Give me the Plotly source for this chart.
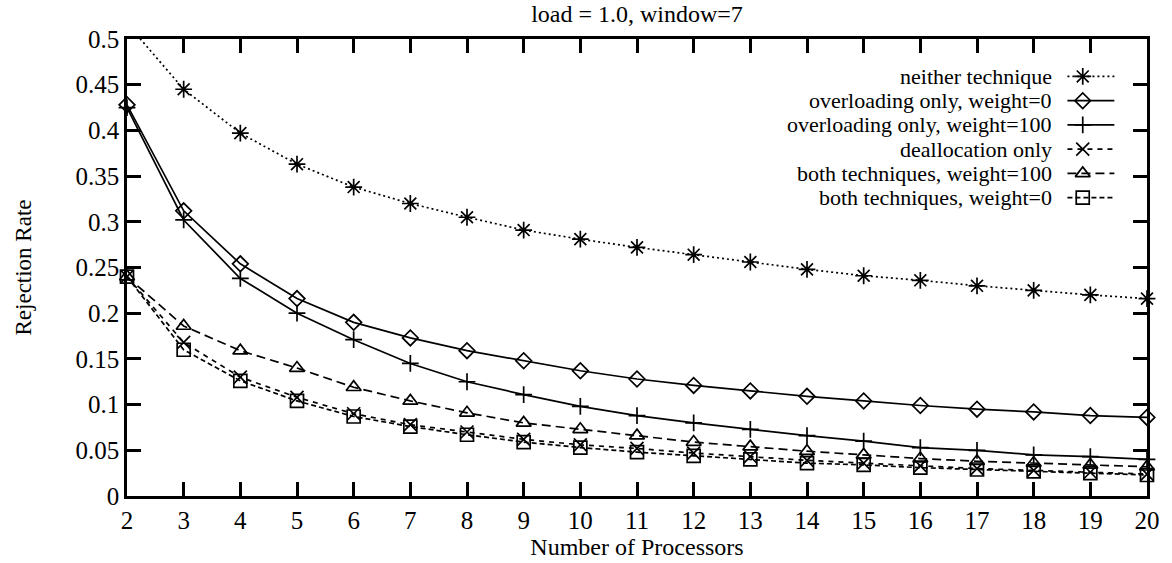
import plotly.graph_objects as go

# Number of processors
processors = list(range(2, 21))

# Rejection rate per strategy
neither = [0.517, 0.445, 0.397, 0.363, 0.338, 0.320, 0.305, 0.291, 0.281, 0.272,
           0.264, 0.256, 0.248, 0.241, 0.236, 0.230, 0.225, 0.220, 0.216]
overload_w0 = [0.428, 0.312, 0.254, 0.216, 0.190, 0.173, 0.159, 0.148, 0.137, 0.128,
               0.121, 0.115, 0.109, 0.104, 0.099, 0.095, 0.092, 0.088, 0.086]
overload_w100 = [0.425, 0.302, 0.238, 0.200, 0.171, 0.145, 0.125, 0.111, 0.098, 0.088,
                 0.080, 0.073, 0.066, 0.060, 0.053, 0.050, 0.045, 0.043, 0.040]
dealloc = [0.240, 0.168, 0.130, 0.108, 0.090, 0.078, 0.070, 0.062, 0.056, 0.052,
           0.047, 0.043, 0.039, 0.036, 0.033, 0.030, 0.028, 0.026, 0.024]
both_w100 = [0.240, 0.186, 0.159, 0.140, 0.119, 0.104, 0.091, 0.080, 0.073, 0.066,
             0.059, 0.054, 0.049, 0.045, 0.041, 0.038, 0.036, 0.034, 0.032]
both_w0 = [0.240, 0.160, 0.126, 0.104, 0.087, 0.076, 0.067, 0.059, 0.053, 0.048,
           0.044, 0.040, 0.036, 0.034, 0.031, 0.029, 0.027, 0.025, 0.023]

series = [
    ("neither technique", neither, "asterisk-open", "2px,3px", 14),
    ("overloading only, weight=0", overload_w0, "diamond-open", "solid", 12),
    ("overloading only, weight=100", overload_w100, "cross-thin-open", "solid", 12),
    ("deallocation only", dealloc, "x-thin-open", "5px,5px", 13),
    ("both techniques, weight=100", both_w100, "triangle-up-open", "9px,5px", 13),
    ("both techniques, weight=0", both_w0, "square-open", "5px,3px", 13),
]

Y_MAX = 0.5
FONT = "Liberation Serif"

fig = go.Figure()

for name, vals, sym, dash, msize in series:
    # line clipped to the plotting area
    fig.add_trace(go.Scatter(
        x=processors, y=vals, mode="lines", showlegend=False,
        line=dict(color="black", width=1.7, dash=dash),
        cliponaxis=True, hoverinfo="skip",
    ))
    # point markers inside the y range, drawn unclipped at the frame edges
    px = [p for p, v in zip(processors, vals) if v <= Y_MAX]
    py = [v for v in vals if v <= Y_MAX]
    fig.add_trace(go.Scatter(
        x=px, y=py, mode="markers", name=name, showlegend=False,
        marker=dict(symbol=sym, size=msize, color="black",
                    line=dict(color="black", width=1.7)),
        cliponaxis=False,
    ))

# key drawn in the top-right corner, sample on the right of each label
key_top = 0.918
key_step = 0.053
sample_x0, sample_x1, sample_mark = 0.922, 0.968, 0.937
for i, (name, vals, sym, dash, msize) in enumerate(series):
    ky = key_top - i * key_step
    fig.add_trace(go.Scatter(
        x=[sample_x0, sample_x1], y=[ky, ky], mode="lines",
        xaxis="x2", yaxis="y2", showlegend=False, hoverinfo="skip",
        line=dict(color="black", width=1.7, dash=dash),
    ))
    fig.add_trace(go.Scatter(
        x=[sample_mark], y=[ky], mode="markers",
        xaxis="x2", yaxis="y2", showlegend=False, hoverinfo="skip",
        marker=dict(symbol=sym, size=msize, color="black",
                    line=dict(color="black", width=1.7)),
    ))
    fig.add_annotation(
        x=0.909, y=ky, xref="x2", yref="y2",
        text=name, showarrow=False, xanchor="right", yanchor="middle",
        font=dict(family=FONT, size=22, color="black"),
    )

axis_common = dict(
    showgrid=False, zeroline=False, showline=True, linecolor="black",
    linewidth=2.5, ticks="inside", ticklen=14, tickwidth=2.5, tickcolor="black",
    mirror="allticks",
    tickfont=dict(family=FONT, size=25, color="black"),
)

fig.update_layout(
    width=1172, height=563,
    paper_bgcolor="white", plot_bgcolor="white",
    margin=dict(l=127, r=22, t=39, b=64),
    title=dict(text="load = 1.0, window=7", x=0.5, xref="paper",
               y=0.976, yanchor="middle",
               font=dict(family=FONT, size=24, color="black")),
    xaxis=dict(range=[2, 20], dtick=1, tick0=2,
               title=dict(text="Number of Processors", standoff=0,
                          font=dict(family=FONT, size=24, color="black")),
               **axis_common),
    yaxis=dict(range=[0, Y_MAX], dtick=0.05, tick0=0,
               title=dict(text="Rejection Rate", standoff=38,
                          font=dict(family=FONT, size=23, color="black")),
               **axis_common),
    xaxis2=dict(overlaying="x", range=[0, 1], visible=False),
    yaxis2=dict(overlaying="y", range=[0, 1], visible=False),
    showlegend=False,
)

fig.write_html("out.html")
